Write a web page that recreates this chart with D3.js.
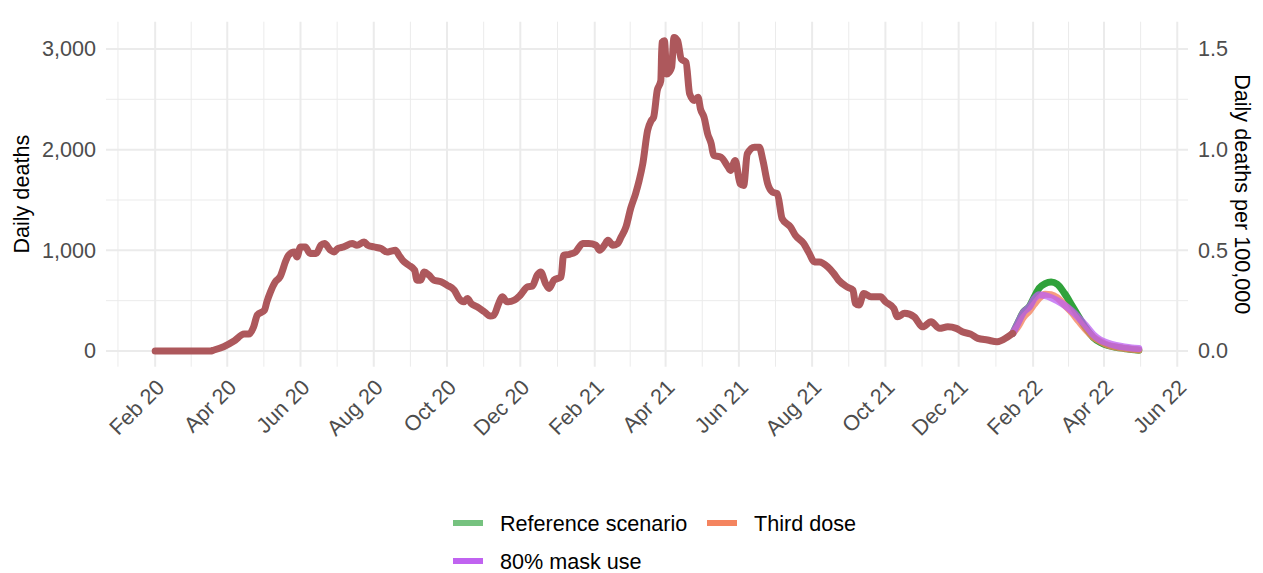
<!DOCTYPE html>
<html>
<head>
<meta charset="utf-8">
<script src="https://cdn.jsdelivr.net/npm/d3@7"></script>
<style>
  html, body { margin: 0; padding: 0; background: #ffffff; }
  svg { display: block; font-family: "Liberation Sans", Arial, sans-serif; }
</style>
</head>
<body>
<svg id="chart" width="1263" height="573"></svg>
<script>
// ---------------- DATA ----------------
const historyDates = [
  "2020-02-01","2020-03-18","2020-03-21","2020-03-29","2020-04-07","2020-04-15","2020-04-19","2020-04-23","2020-04-26",
  "2020-05-02","2020-05-04","2020-05-07","2020-05-11","2020-05-15","2020-05-20","2020-05-22","2020-05-27","2020-05-29",
  "2020-06-01","2020-06-05","2020-06-09","2020-06-14","2020-06-18","2020-06-21","2020-06-26","2020-06-29",
  "2020-07-02","2020-07-07","2020-07-14","2020-07-18","2020-07-24","2020-07-27",
  "2020-08-01","2020-08-07","2020-08-12","2020-08-15","2020-08-19","2020-08-22","2020-08-25","2020-08-30",
  "2020-09-04","2020-09-06","2020-09-09","2020-09-12","2020-09-16","2020-09-20","2020-09-26",
  "2020-10-01","2020-10-07","2020-10-11","2020-10-15","2020-10-18","2020-10-21","2020-10-26",
  "2020-11-01","2020-11-06","2020-11-09","2020-11-13","2020-11-16","2020-11-20","2020-11-26",
  "2020-12-01","2020-12-07","2020-12-11","2020-12-15","2020-12-18","2020-12-22","2020-12-25","2020-12-29",
  "2021-01-04","2021-01-06","2021-01-11","2021-01-16","2021-01-22","2021-01-27",
  "2021-02-02","2021-02-05","2021-02-09","2021-02-12","2021-02-16","2021-02-20","2021-02-23","2021-02-27",
  "2021-03-03","2021-03-07","2021-03-10","2021-03-13","2021-03-17","2021-03-20","2021-03-22","2021-03-25","2021-03-28","2021-03-29","2021-03-31",
  "2021-04-02","2021-04-04","2021-04-06","2021-04-08","2021-04-11","2021-04-14","2021-04-18","2021-04-21","2021-04-25","2021-04-28","2021-04-30",
  "2021-05-03","2021-05-06","2021-05-09","2021-05-11","2021-05-17","2021-05-23","2021-05-25","2021-05-29",
  "2021-06-02","2021-06-05","2021-06-08","2021-06-14","2021-06-18","2021-06-21","2021-06-25","2021-06-29",
  "2021-07-03","2021-07-07","2021-07-14","2021-07-18","2021-07-25","2021-07-29",
  "2021-08-03","2021-08-07","2021-08-14","2021-08-19","2021-08-23","2021-08-30",
  "2021-09-04","2021-09-06","2021-09-09","2021-09-13","2021-09-19","2021-09-27",
  "2021-10-01","2021-10-08","2021-10-11","2021-10-17","2021-10-25",
  "2021-11-01","2021-11-08","2021-11-15","2021-11-22","2021-11-29",
  "2021-12-04","2021-12-11","2021-12-17","2021-12-25",
  "2022-01-02","2022-01-11","2022-01-15"
];
const historyDeaths = [
  0,0,10,43,102,168,168,241,357,
  406,489,588,687,737,902,951,984,935,
  1034,1034,968,968,1051,1067,1001,984,
  1018,1034,1067,1051,1083,1051,
  1034,1018,984,991,1001,951,902,853,
  803,704,704,786,753,704,687,
  654,605,522,489,522,473,439,
  390,347,357,473,538,489,506,
  555,637,644,753,786,671,621,704,
  737,951,961,984,1067,1067,
  1051,1001,1051,1100,1051,1067,1133,1232,
  1420,1563,1695,1860,2190,2289,2322,2587,2686,3066,3082,
  2752,2769,2818,3115,3082,2901,2868,2554,2488,2521,2405,
  2322,2157,2058,1943,1926,1827,1794,1893,
  1662,1645,1959,2025,2025,1893,1662,1579,
  1563,1315,1232,1150,1067,984,
  885,885,836,770,704,637,
  605,473,456,572,538,538,
  489,423,340,374,340,
  241,290,225,241,225,
  191,168,126,109,
  92,142,175
];

const projDates = [
  "2022-01-15","2022-01-19","2022-01-24","2022-01-29","2022-02-02","2022-02-06","2022-02-11","2022-02-16",
  "2022-02-21","2022-02-27","2022-03-05","2022-03-11","2022-03-17","2022-03-23","2022-03-29",
  "2022-04-04","2022-04-11","2022-04-18","2022-04-24","2022-04-30"
];
const refScenario = [175,274,390,445,540,625,670,685,665,575,460,340,225,135,85,55,37,25,15,8];
const thirdDose   = [175,235,335,400,465,525,565,560,530,460,385,295,210,140,95,60,40,27,17,10];
const maskUse     = [175,270,385,440,520,560,550,530,500,455,400,330,250,165,110,80,55,40,30,24];

const seriesNames = ["Reference scenario", "Third dose", "80% mask use"];

const xTickDates = ["2020-02-01","2020-04-01","2020-06-01","2020-08-01","2020-10-01","2020-12-01",
                    "2021-02-01","2021-04-01","2021-06-01","2021-08-01","2021-10-01","2021-12-01",
                    "2022-02-01","2022-04-01","2022-06-01"];
const yTicks  = [0, 1000, 2000, 3000];
const y2Ticks = [0, 0.5, 1.0, 1.5];
const deathsPer100k = 2000;   // deaths per day equal to 1 death per 100,000

// ---------------- LAYOUT / STYLE ----------------
const panel = { left: 106, right: 1188, top: 21.7, bottom: 366.7 };
const histColor = "#ad585c";
const lineColors = ["#30a23b", "#f4845f", "#bc5ff2"];
const lineOpacity = [1, 0.8, 0.75];
const keyColors = ["#76c27f", "#f4845f", "#c063f0"];
const fontSize = "21.6px";

const parse = d3.utcParse("%Y-%m-%d");
const svg = d3.select("#chart");
svg.append("rect").attr("width", 1263).attr("height", 573).attr("fill", "#fff");

const allDates = historyDates.concat(projDates).map(parse);
const [d0, d1] = d3.extent(allDates);
const span = d1 - d0;
const x = d3.scaleUtc()
  .domain([new Date(+d0 - 0.05 * span), new Date(+d1 + 0.05 * span)])
  .range([panel.left, panel.right]);

const maxV = d3.max(historyDeaths.concat(refScenario, thirdDose, maskUse));
const y = d3.scaleLinear()
  .domain([-0.05 * maxV, maxV * 1.05])
  .range([panel.bottom, panel.top]);
const y2 = d3.scaleLinear()
  .domain(y.domain().map(v => v / deathsPer100k))
  .range(y.range());

// ---------------- GRID ----------------
const grid = svg.append("g");
const majors = [d3.utcMonth.offset(parse(xTickDates[0]), -2)].concat(xTickDates.map(parse), [d3.utcMonth.offset(parse(xTickDates[xTickDates.length - 1]), 2)]);
const minorX = [];
for (let i = 0; i < majors.length - 1; i++) {
  const m = new Date((+majors[i] + +majors[i + 1]) / 2);
  const px = x(m);
  if (px >= panel.left && px <= panel.right) minorX.push(m);
}
grid.selectAll(".vminor").data(minorX).join("line")
  .attr("x1", d => x(d)).attr("x2", d => x(d))
  .attr("y1", panel.top).attr("y2", panel.bottom)
  .attr("stroke", "#ebebeb").attr("stroke-width", 1);
grid.selectAll(".vmajor").data(xTickDates.map(parse).filter(d => x(d) <= panel.right)).join("line")
  .attr("x1", d => x(d)).attr("x2", d => x(d))
  .attr("y1", panel.top).attr("y2", panel.bottom)
  .attr("stroke", "#ebebeb").attr("stroke-width", 2);
const minorY = [500, 1500, 2500];
grid.selectAll(".hminor").data(minorY).join("line")
  .attr("x1", panel.left).attr("x2", panel.right)
  .attr("y1", d => y(d)).attr("y2", d => y(d))
  .attr("stroke", "#ebebeb").attr("stroke-width", 1);
grid.selectAll(".hmajor").data(yTicks).join("line")
  .attr("x1", panel.left).attr("x2", panel.right)
  .attr("y1", d => y(d)).attr("y2", d => y(d))
  .attr("stroke", "#ebebeb").attr("stroke-width", 2);

// ---------------- AXES ----------------
function styleAxis(g) {
  g.select(".domain").remove();
  g.selectAll(".tick line").remove();
  g.selectAll(".tick text").attr("fill", "#4d4d4d").style("font-size", fontSize)
    .style("font-family", "Liberation Sans, Arial, sans-serif");
}
svg.append("g").attr("transform", `translate(${panel.left},0)`)
  .call(d3.axisLeft(y).tickValues(yTicks).tickFormat(d3.format(",")).tickSize(0).tickPadding(10))
  .call(styleAxis);
svg.append("g").attr("transform", `translate(${panel.right},0)`)
  .call(d3.axisRight(y2).tickValues(y2Ticks).tickFormat(d3.format(".1f")).tickSize(0).tickPadding(10))
  .call(styleAxis);
const xAxis = svg.append("g").attr("transform", `translate(0,${panel.bottom})`)
  .call(d3.axisBottom(x).tickValues(xTickDates.map(parse)).tickFormat(d3.utcFormat("%b %y")).tickSize(0))
  .call(styleAxis);
xAxis.selectAll(".tick text")
  .attr("text-anchor", "end")
  .attr("dy", null).attr("y", null)
  .attr("transform", "translate(10,22) rotate(-45)");

// titles
svg.append("text")
  .attr("transform", `translate(29,${(panel.top + panel.bottom) / 2}) rotate(-90)`)
  .attr("text-anchor", "middle")
  .style("font-size", fontSize).attr("fill", "#000")
  .text("Daily deaths");
svg.append("text")
  .attr("transform", `translate(1235,${(panel.top + panel.bottom) / 2}) rotate(90)`)
  .attr("text-anchor", "middle")
  .style("font-size", fontSize).attr("fill", "#000")
  .text("Daily deaths per 100,000");

// ---------------- LINES ----------------
const line = d3.line()
  .x(d => x(d[0])).y(d => y(d[1]))
  .curve(d3.curveMonotoneX);
const projSeries = [refScenario, thirdDose, maskUse];
const plotG = svg.append("g");
projSeries.forEach((vals, i) => {
  plotG.append("path")
    .datum(projDates.map((d, j) => [parse(d), vals[j]]))
    .attr("d", line)
    .attr("fill", "none")
    .attr("stroke", lineColors[i])
    .attr("stroke-opacity", lineOpacity[i])
    .attr("stroke-width", 7)
    .attr("stroke-linejoin", "round")
    .attr("stroke-linecap", "round");
});
plotG.append("path")
  .datum(historyDates.map((d, j) => [parse(d), historyDeaths[j]]))
  .attr("d", line)
  .attr("fill", "none")
  .attr("stroke", histColor)
  .attr("stroke-width", 7)
  .attr("stroke-linejoin", "round")
  .attr("stroke-linecap", "round");

// ---------------- LEGEND ----------------
const legendPos = [[453, 523], [707, 523], [453, 561]];
const leg = svg.append("g");
seriesNames.forEach((name, i) => {
  const [lx, ly] = legendPos[i];
  leg.append("line")
    .attr("x1", lx).attr("x2", lx + 30).attr("y1", ly).attr("y2", ly)
    .attr("stroke", keyColors[i]).attr("stroke-width", 6);
  leg.append("text")
    .attr("x", lx + 47).attr("y", ly)
    .attr("dy", "0.35em")
    .style("font-size", fontSize).attr("fill", "#000")
    .text(name);
});
</script>
</body>
</html>
